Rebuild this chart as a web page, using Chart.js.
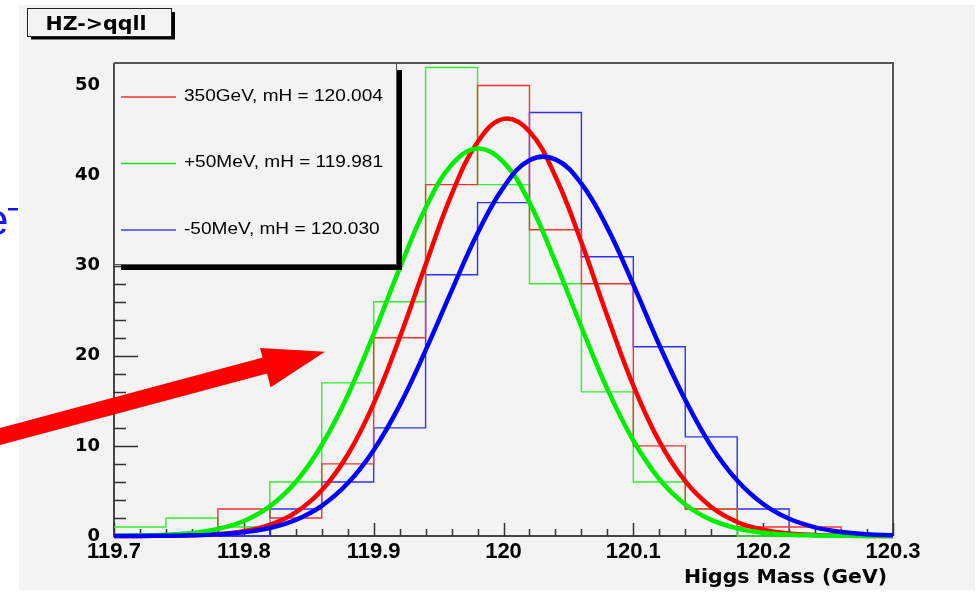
<!DOCTYPE html>
<html>
<head>
<meta charset="utf-8">
<script src="https://cdn.jsdelivr.net/npm/chart.js@4.4.0/dist/chart.umd.min.js"></script>
<style>
    html, body { margin: 0; padding: 0; background: #ffffff; }
    #wrap { position: relative; width: 976px; height: 594px; }
</style>
</head>
<body>
<div id="wrap"><canvas id="higgs-chart" width="976" height="594"></canvas></div>
<script>
// Histogram binning (GeV) and bin contents
const binEdges = [119.70, 119.74, 119.78, 119.82, 119.86, 119.90, 119.94, 119.98,
                  120.02, 120.06, 120.10, 120.14, 120.18, 120.22, 120.26, 120.30];
const redCounts   = [0, 0, 3, 2, 8, 22, 39, 50, 34, 28, 10, 3, 1, 1, 0];
const greenCounts = [1, 2, 1, 6, 17, 26, 52, 39, 28, 16, 6, 3, 0, 0, 0];
const blueCounts  = [0, 0, 0, 3, 6, 12, 29, 37, 47, 31, 21, 11, 3, 0, 0];

// Fit curves
const fitX = [119.70, 119.72, 119.74, 119.76, 119.78, 119.80, 119.82, 119.84, 119.86, 119.88,
              119.90, 119.92, 119.94, 119.96, 119.98, 120.00, 120.02, 120.04, 120.06, 120.08,
              120.10, 120.12, 120.14, 120.16, 120.18, 120.20, 120.22, 120.24, 120.26, 120.28, 120.30];
const fitRed = [0.00, 0.01, 0.03, 0.08, 0.21, 0.54, 1.24, 2.62, 5.07, 9.02,
                14.7, 22.0, 30.1, 37.9, 43.7, 46.3, 44.9, 39.9, 32.6, 24.4,
                16.7, 10.5, 6.08, 3.22, 1.56, 0.70, 0.28, 0.11, 0.04, 0.01, 0.00];
const fitGreen = [0.02, 0.05, 0.14, 0.34, 0.78, 1.67, 3.29, 5.99, 10.1, 15.6,
                  22.4, 29.7, 36.4, 41.2, 43.0, 41.5, 37.0, 30.4, 23.2, 16.3,
                  10.6, 6.33, 3.50, 1.79, 0.85, 0.37, 0.15, 0.06, 0.02, 0.01, 0.00];
const fitBlue = [0.00, 0.01, 0.03, 0.07, 0.18, 0.42, 0.89, 1.79, 3.35, 5.85,
                 9.53, 14.5, 20.6, 27.2, 33.6, 38.7, 41.7, 41.8, 39.1, 34.2,
                 27.9, 21.2, 15.1, 9.97, 6.16, 3.55, 1.91, 0.96, 0.45, 0.20, 0.08];

const legendLabels = ['350GeV, mH = 120.004', '+50MeV, mH = 119.981', '-50MeV, mH = 120.030'];
const xTicks = [119.7, 119.8, 119.9, 120.0, 120.1, 120.2, 120.3];
const xTickLabels = ['119.7', '119.8', '119.9', '120', '120.1', '120.2', '120.3'];
const yTicks = [0, 10, 20, 30, 40, 50];

const BG = '#f3f3f3';

function histPoints(counts) {
    // bin i spans binEdges[i]..binEdges[i+1]; last point closes the final bin
    const pts = counts.map((c, i) => ({ x: binEdges[i], y: c }));
    pts.push({ x: binEdges[counts.length], y: counts[counts.length - 1] });
    return pts;
}

function curvePoints(values) {
    return values.map((v, i) => ({ x: fitX[i], y: v }));
}

// text squeezed/stretched horizontally, like the ROOT output
function drawStretched(ctx, text, x, y, sx, font, align, baseline) {
    ctx.save();
    ctx.font = font;
    ctx.translate(x, y);
    ctx.scale(sx, 1);
    ctx.textAlign = align;
    ctx.textBaseline = baseline || 'alphabetic';
    ctx.fillText(text, 0, 0);
    ctx.restore();
}

function drawFitted(ctx, text, x, y, width, font, align) {
    ctx.save();
    ctx.font = font;
    const w = ctx.measureText(text).width;
    ctx.restore();
    drawStretched(ctx, text, x, y, width / w, font, align);
}

const rootStyle = {
    id: 'rootStyle',
    beforeDraw(chart) {
        const ctx = chart.ctx;
        ctx.save();
        ctx.fillStyle = '#ffffff';
        ctx.fillRect(0, 0, chart.width, chart.height);
        ctx.fillStyle = BG;
        ctx.fillRect(19, 5, 956, 585);
        ctx.restore();
    },
    beforeDatasetsDraw(chart) {
        const ctx = chart.ctx;
        const { left, right, top, bottom } = chart.chartArea;
        const xs = chart.scales.x, ys = chart.scales.y;
        ctx.save();
        // frame
        ctx.strokeStyle = '#555';
        ctx.lineWidth = 2;
        ctx.beginPath();
        ctx.moveTo(left, top); ctx.lineTo(right, top); ctx.lineTo(right, bottom);
        ctx.stroke();
        // axes
        ctx.strokeStyle = '#444';
        ctx.beginPath();
        ctx.moveTo(left, top); ctx.lineTo(left, bottom); ctx.lineTo(right, bottom);
        ctx.stroke();
        // inward ticks
        ctx.lineWidth = 1.5;
        ctx.strokeStyle = '#333';
        ctx.beginPath();
        for (let k = 0; k <= 26; k++) {
            const py = Math.round(ys.getPixelForValue(k * 2)) + 0.5;
            const len = (k % 5 === 0) ? 24 : 12;
            ctx.moveTo(left, py); ctx.lineTo(left + len, py);
        }
        for (let k = 0; k <= 30; k++) {
            const px = Math.round(xs.getPixelForValue(119.7 + k * 0.02)) + 0.5;
            const len = (k % 5 === 0) ? 13 : 7;
            ctx.moveTo(px, bottom); ctx.lineTo(px, bottom - len);
        }
        ctx.stroke();
        ctx.restore();
    },
    afterDatasetsDraw(chart) {
        const ctx = chart.ctx;
        ctx.save();

        // legend box with shadow
        ctx.fillStyle = '#000';
        ctx.fillRect(397, 70, 5, 200);
        ctx.fillRect(121, 265, 281, 5);
        ctx.fillStyle = BG;
        ctx.fillRect(114, 63, 283, 202);
        ctx.strokeStyle = '#555';
        ctx.lineWidth = 1;
        ctx.strokeRect(114.5, 63.5, 282, 201);
        const legendColors = ['#ff3030', '#20e020', '#3c3cff'];
        const rowsY = [97, 163.5, 230];
        ctx.lineWidth = 1.3;
        legendLabels.forEach((label, i) => {
            ctx.strokeStyle = legendColors[i];
            ctx.beginPath();
            ctx.moveTo(121, rowsY[i]); ctx.lineTo(176, rowsY[i]);
            ctx.stroke();
            ctx.fillStyle = '#000';
            drawStretched(ctx, label, 184, rowsY[i] - 0.5, 1.19,
                '16px "Liberation Sans", Arial, sans-serif', 'left', 'middle');
        });

        // title box
        ctx.lineWidth = 1;
        ctx.fillStyle = '#000';
        ctx.fillRect(172, 12, 3, 27);
        ctx.fillRect(31, 36.5, 144, 3);
        ctx.fillStyle = BG;
        ctx.fillRect(27.5, 8.5, 144, 28);
        ctx.strokeStyle = '#222';
        ctx.strokeRect(27.5, 8.5, 144, 28);
        ctx.fillStyle = '#000';
        drawFitted(ctx, 'HZ->qqll', 96, 30, 101, 'bold 20px "DejaVu Sans", sans-serif', 'center');

        // axis title
        drawFitted(ctx, 'Higgs Mass (GeV)', 887, 582.5, 203, 'bold 19px "DejaVu Sans", sans-serif', 'right');

        // pasted slide decorations: blue e- and the red arrow
        ctx.fillStyle = '#1414ff';
        ctx.font = '44px "Liberation Sans", Arial, sans-serif';
        ctx.textAlign = 'right';
        ctx.textBaseline = 'alphabetic';
        ctx.fillText('e', 8.5, 235);
        ctx.fillRect(8, 208, 10, 2.5);

        ctx.strokeStyle = '#ff0000';
        ctx.fillStyle = '#ff0000';
        ctx.lineWidth = 16.5;
        ctx.lineCap = 'butt';
        ctx.beginPath();
        ctx.moveTo(-5, 437.8);
        ctx.lineTo(266, 365.2);
        ctx.stroke();
        ctx.beginPath();
        ctx.moveTo(260, 348);
        ctx.lineTo(325, 351.7);
        ctx.lineTo(270.7, 387.3);
        ctx.closePath();
        ctx.fill();

        ctx.restore();
    }
};

const histStyle = (color) => ({
    borderColor: color,
    borderWidth: 1.4,
    pointRadius: 0,
    stepped: 'before',
    fill: false,
    order: 2,
    clip: false
});

const fitStyle = (color, order) => ({
    borderColor: color,
    borderWidth: 4.5,
    pointRadius: 0,
    tension: 0.4,
    fill: false,
    order: order,
    clip: false
});

new Chart(document.getElementById('higgs-chart'), {
    type: 'line',
    data: {
        datasets: [
            { label: 'red hist', data: histPoints(redCounts), ...histStyle('#ff3030') },
            { label: 'green hist', data: histPoints(greenCounts), ...histStyle('#30f030') },
            { label: 'blue hist', data: histPoints(blueCounts), ...histStyle('#3030ff') },
            { label: legendLabels[0], data: curvePoints(fitRed), ...fitStyle('#ff0000', 1.2) },
            { label: legendLabels[1], data: curvePoints(fitGreen), ...fitStyle('#00ee00', 1.1) },
            { label: legendLabels[2], data: curvePoints(fitBlue), ...fitStyle('#0000ff', 1.0) }
        ]
    },
    options: {
        responsive: false,
        animation: false,
        events: [],
        devicePixelRatio: 1,
        layout: {
            padding: { left: 0, top: 63, right: 83, bottom: 0 }
        },
        plugins: {
            legend: { display: false },
            title: { display: false },
            tooltip: { enabled: false }
        },
        scales: {
            x: {
                type: 'linear',
                min: 119.7,
                max: 120.3,
                grid: { display: false },
                border: { display: false },
                afterBuildTicks: (scale) => {
                    scale.ticks = xTicks.map(v => ({ value: v }));
                },
                afterFit: (scale) => { scale.height = 58; },
                ticks: {
                    color: '#000',
                    padding: -5,
                    maxRotation: 0,
                    autoSkip: false,
                    font: { family: '"Liberation Sans", Arial, sans-serif', size: 22, weight: 'bold' },
                    callback: (value, index) => xTickLabels[index]
                }
            },
            y: {
                type: 'linear',
                min: 0,
                max: 52.5,
                grid: { display: false },
                border: { display: false },
                afterBuildTicks: (scale) => {
                    scale.ticks = yTicks.map(v => ({ value: v }));
                },
                afterFit: (scale) => { scale.width = 114; },
                ticks: {
                    color: '#000',
                    padding: 6,
                    font: { family: '"DejaVu Sans", sans-serif', size: 18, weight: 'bold' },
                    callback: (value) => String(value)
                }
            }
        }
    },
    plugins: [rootStyle]
});
</script>
</body>
</html>
